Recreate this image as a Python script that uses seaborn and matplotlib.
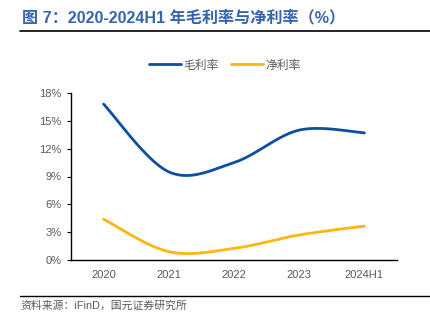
import numpy as np
import pandas as pd
import matplotlib
matplotlib.use("Agg")
import matplotlib.pyplot as plt
import matplotlib.ticker as mticker
from matplotlib.lines import Line2D
import seaborn as sns

# Data (%)
years = ["2020", "2021", "2022", "2023", "2024H1"]
gross_margin = [16.8, 9.5, 10.5, 14.0, 13.7]
net_margin = [4.4, 0.9, 1.25, 2.7, 3.65]
series_names = ["毛利率", "净利率"]
y_ticks = [0, 3, 6, 9, 12, 15, 18]

title_text = "图 7：2020-2024H1 年毛利率与净利率（%）"
source_text = "资料来源：iFinD，国元证券研究所"

BLUE = "#0D4EA0"
YELLOW = "#FFB60F"
GREY = "#595959"

sns.set_theme(style="white")
plt.rcParams["font.family"] = ["Liberation Sans", "Noto Sans CJK SC", "DejaVu Sans"]


def smooth(values, n=40):
    """Smoothed curve through the points (cubic Bezier, Catmull-Rom tangents)."""
    p = np.asarray(values, dtype=float)
    x = np.arange(len(p), dtype=float)
    xs, ys = [], []
    for i in range(len(p) - 1):
        p0 = p[i - 1] if i > 0 else p[i]
        p3 = p[i + 2] if i + 2 < len(p) else p[i + 1]
        x0 = x[i - 1] if i > 0 else x[i]
        x3 = x[i + 2] if i + 2 < len(p) else x[i + 1]
        c1y = p[i] + (p[i + 1] - p0) / 6
        c2y = p[i + 1] - (p3 - p[i]) / 6
        c1x = x[i] + (x[i + 1] - x0) / 6
        c2x = x[i + 1] - (x3 - x[i]) / 6
        t = np.linspace(0, 1, n, endpoint=(i == len(p) - 2))
        b = [(1 - t) ** 3, 3 * (1 - t) ** 2 * t, 3 * (1 - t) * t ** 2, t ** 3]
        xs.append(b[0] * x[i] + b[1] * c1x + b[2] * c2x + b[3] * x[i + 1])
        ys.append(b[0] * p[i] + b[1] * c1y + b[2] * c2y + b[3] * p[i + 1])
    return np.concatenate(xs), np.concatenate(ys)


frames = []
for name, vals in zip(series_names, [gross_margin, net_margin]):
    sx, sy = smooth(vals)
    frames.append(pd.DataFrame({"x": sx, "y": sy, "series": name}))
df = pd.concat(frames, ignore_index=True)

fig = plt.figure(figsize=(4.31, 3.22), dpi=100)
ax = fig.add_axes([71 / 431, 1 - 260 / 322, 326 / 431, 167 / 322])

sns.lineplot(data=df, x="x", y="y", hue="series", palette=[BLUE, YELLOW],
             linewidth=2.0, ax=ax, legend=False, sort=False, estimator=None)

ax.set_xlim(-0.5, len(years) - 0.5)
ax.set_ylim(0, 18)
ax.set_yticks(y_ticks)
ax.yaxis.set_major_formatter(mticker.FuncFormatter(lambda v, _: f"{v:.0f}%"))
ax.set_xticks(range(len(years)))
ax.set_xticklabels(years)
ax.set_xticks(np.arange(-0.5, len(years)), minor=True)
ax.set_xlabel("")
ax.set_ylabel("")

for s in ["top", "right"]:
    ax.spines[s].set_visible(False)
for s in ["left", "bottom"]:
    ax.spines[s].set_color("#000000")
    ax.spines[s].set_linewidth(1.0)

ax.tick_params(axis="x", which="major", length=0, labelsize=8, labelcolor=GREY, pad=7)
ax.tick_params(axis="x", which="minor", direction="in", length=3, width=0.8, color="#000000")
ax.tick_params(axis="y", which="major", direction="out", length=3, width=0.8, color="#000000",
               left=True, labelsize=8, labelcolor=GREY, pad=4)

# Legend
handles = [Line2D([], [], color=BLUE, lw=2.0), Line2D([], [], color=YELLOW, lw=2.0)]
fig.legend(handles, series_names, loc="center", bbox_to_anchor=(0.522, 1 - 65 / 322),
           ncol=2, frameon=False, handlelength=2.7, handletextpad=0.2,
           columnspacing=1.1, labelcolor=GREY,
           prop={"family": ["Noto Sans CJK SC", "DejaVu Sans"], "size": 8.5})

# Title, rules and source note
fig.text(22 / 431, 1 - 17 / 322, title_text, color="#3565AD", fontsize=11.6,
         fontweight="bold", va="center", ha="left",
         family=["Liberation Sans", "Noto Sans CJK SC"])
fig.add_artist(Line2D([20 / 431, 1.0], [1 - 31 / 322] * 2, color="#000000", lw=1.2,
                      transform=fig.transFigure))
fig.add_artist(Line2D([20 / 431, 1.0], [1 - 296 / 322] * 2, color="#000000", lw=1.0,
                      transform=fig.transFigure))
fig.text(20 / 431, 1 - 306 / 322, source_text, color=GREY, fontsize=7.8, va="center",
         ha="left", family=["Liberation Sans", "Noto Sans CJK SC"])

fig.savefig("out.png", dpi=100)
